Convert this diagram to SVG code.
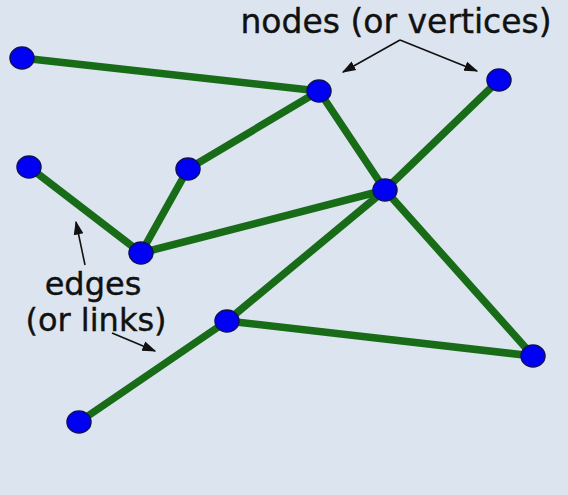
<svg xmlns="http://www.w3.org/2000/svg" width="568" height="495" viewBox="0 0 568 495">
<defs>
<style>
.e{stroke:#186c18;stroke-width:7.5;stroke-linecap:round}
.n{fill:#0000f5;stroke:#101060;stroke-width:1.5}
.t{font-family:"DejaVu Sans",sans-serif;font-size:32px;fill:#111;stroke:#111;stroke-width:0.4}
.t1{font-size:33px}
.a{stroke:#111;stroke-width:1.6;fill:none}
</style>
<marker id="ah" viewBox="0 0 10 10" refX="9" refY="5" markerWidth="14" markerHeight="14" markerUnits="userSpaceOnUse" orient="auto"><path d="M0,1.5 L10,5 L0,8.5 Z" fill="#111"/></marker>
</defs>
<rect width="568" height="495" fill="#dce5ef"/>
<g id="connectors">
<line class="e" x1="22" y1="58" x2="319" y2="91"/>
<line class="e" x1="319" y1="91" x2="188" y2="169"/>
<line class="e" x1="188" y1="169" x2="141" y2="253"/>
<line class="e" x1="29" y1="167" x2="141" y2="253"/>
<line class="e" x1="141" y1="253" x2="385" y2="190"/>
<line class="e" x1="319" y1="91" x2="385" y2="190"/>
<line class="e" x1="385" y1="190" x2="499" y2="80"/>
<line class="e" x1="385" y1="190" x2="227" y2="321"/>
<line class="e" x1="385" y1="190" x2="533" y2="356"/>
<line class="e" x1="227" y1="321" x2="533" y2="356"/>
<line class="e" x1="227" y1="321" x2="79" y2="422"/>
</g>
<g id="nA"><ellipse class="n" cx="22" cy="58" rx="12" ry="11"/></g>
<g id="nB"><ellipse class="n" cx="319" cy="91" rx="12" ry="11"/></g>
<g id="nC"><ellipse class="n" cx="499" cy="80" rx="12" ry="11"/></g>
<g id="nD"><ellipse class="n" cx="29" cy="167" rx="12" ry="11"/></g>
<g id="nE"><ellipse class="n" cx="188" cy="169" rx="12" ry="11"/></g>
<g id="nF"><ellipse class="n" cx="385" cy="190" rx="12" ry="11"/></g>
<g id="nG"><ellipse class="n" cx="141" cy="253" rx="12" ry="11"/></g>
<g id="nH"><ellipse class="n" cx="227" cy="321" rx="12" ry="11"/></g>
<g id="nI"><ellipse class="n" cx="533" cy="356" rx="12" ry="11"/></g>
<g id="nJ"><ellipse class="n" cx="79" cy="422" rx="12" ry="11"/></g>
<g id="labels">
<text class="t t1" x="396" y="33" text-anchor="middle">nodes (or vertices)</text>
<path class="a" d="M400,40 L343,72" marker-end="url(#ah)"/>
<path class="a" d="M400,40 L477,71" marker-end="url(#ah)"/>
<text class="t" x="93" y="295" text-anchor="middle">edges</text>
<text class="t" x="96" y="331" text-anchor="middle">(or links)</text>
<path class="a" d="M85,265 L76,222" marker-end="url(#ah)"/>
<path class="a" d="M112,333 L155,351" marker-end="url(#ah)"/>
</g>
</svg>
